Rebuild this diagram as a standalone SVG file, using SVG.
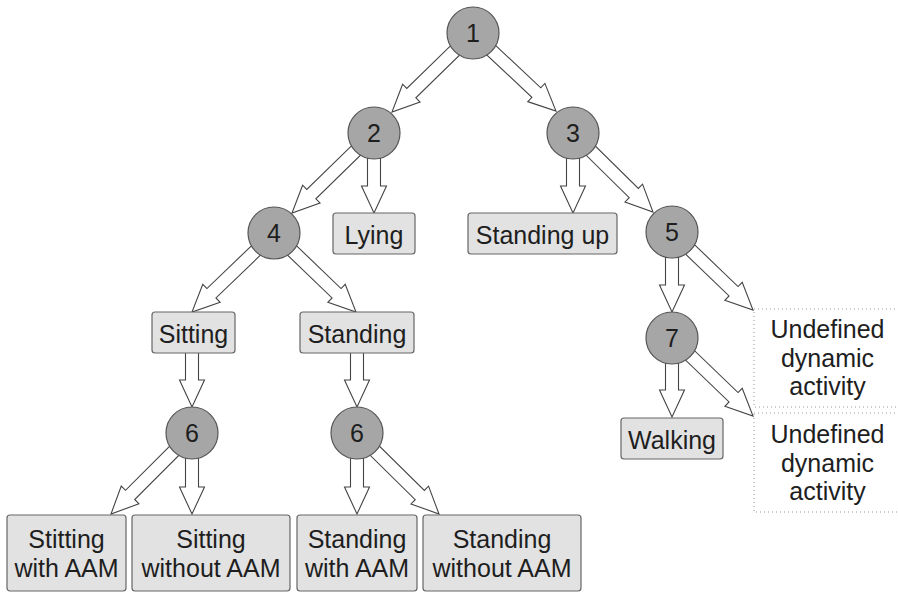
<svg xmlns="http://www.w3.org/2000/svg" width="898" height="592" viewBox="0 0 898 592">
  <style>
    .arrow { fill: #ffffff; stroke: #444444; stroke-width: 1.1; stroke-linejoin: miter; }
    .dec circle { fill: #a6a6a6; stroke: #555555; stroke-width: 1.2; }
    .leaf rect { fill: #e2e2e2; stroke: #666666; stroke-width: 1.2; }
    .open rect { fill: #ffffff; stroke: #999999; stroke-width: 1; stroke-dasharray: 1 3; }
    text { font-family: "Liberation Sans", Arial, sans-serif; font-size: 25px; fill: #1e1e1e; text-anchor: middle; }
  </style>
  <defs>
    <!-- block arrow pointing down, tip at origin; shaft reaches back into the source node -->
    <polygon id="arr80" points="-6.5,-80 6.5,-80 6.5,-27 12.5,-27 0,0 -12.5,-27 -6.5,-27"/>
    <polygon id="arr74" points="-6.5,-74 6.5,-74 6.5,-27 12.5,-27 0,0 -12.5,-27 -6.5,-27"/>
    <polygon id="arr113" points="-6.5,-113 6.5,-113 6.5,-27 12.5,-27 0,0 -12.5,-27 -6.5,-27"/>
  </defs>

  <g id="connectors" class="arrow">
    <use href="#arr113" transform="translate(392,112) rotate(45.7)"/>
    <use href="#arr113" transform="translate(556,111) rotate(-46.8)"/>
    <use href="#arr113" transform="translate(292,213) rotate(45.7)"/>
    <use href="#arr80" transform="translate(374,213)"/>
    <use href="#arr80" transform="translate(573,213)"/>
    <use href="#arr113" transform="translate(653,212) rotate(-45.4)"/>
    <use href="#arr113" transform="translate(192,312) rotate(46.1)"/>
    <use href="#arr113" transform="translate(356,312) rotate(-46.1)"/>
    <use href="#arr80" transform="translate(672,312)"/>
    <use href="#arr113" transform="translate(753,310) rotate(-46.1)"/>
    <use href="#arr80" transform="translate(672,417)"/>
    <use href="#arr113" transform="translate(753,416) rotate(-46.1)"/>
    <use href="#arr74" transform="translate(192,407)"/>
    <use href="#arr74" transform="translate(357,407)"/>
    <use href="#arr113" transform="translate(111,514) rotate(45)"/>
    <use href="#arr80" transform="translate(192,514)"/>
    <use href="#arr80" transform="translate(357,514)"/>
    <use href="#arr113" transform="translate(439,514) rotate(-45.4)"/>
  </g>

  <!-- decision nodes -->
  <g id="n1" class="dec"><circle cx="473" cy="33" r="26"/><text x="473" y="42">1</text></g>
  <g id="n2" class="dec"><circle cx="374" cy="133" r="26"/><text x="374" y="142">2</text></g>
  <g id="n3" class="dec"><circle cx="573" cy="133" r="26"/><text x="573" y="142">3</text></g>
  <g id="n4" class="dec"><circle cx="274" cy="233" r="26"/><text x="274" y="242">4</text></g>
  <g id="n5" class="dec"><circle cx="672" cy="232" r="26"/><text x="672" y="241">5</text></g>
  <g id="n7" class="dec"><circle cx="672" cy="338" r="26"/><text x="672" y="347">7</text></g>
  <g id="n6a" class="dec"><circle cx="192" cy="433" r="26"/><text x="192" y="442">6</text></g>
  <g id="n6b" class="dec"><circle cx="357" cy="433" r="26"/><text x="357" y="442">6</text></g>

  <!-- activity leaves -->
  <g id="lying" class="leaf"><rect x="333" y="213" width="82" height="41" rx="3"/><text x="374" y="244">Lying</text></g>
  <g id="standing-up" class="leaf"><rect x="468" y="213" width="149" height="41" rx="3"/><text x="542.5" y="244">Standing up</text></g>
  <g id="sitting" class="leaf"><rect x="152" y="312" width="83" height="41" rx="3"/><text x="193.5" y="343">Sitting</text></g>
  <g id="standing" class="leaf"><rect x="300" y="312" width="114" height="41" rx="3"/><text x="357" y="343">Standing</text></g>
  <g id="walking" class="leaf"><rect x="621" y="418" width="102" height="41" rx="3"/><text x="672" y="449">Walking</text></g>

  <g id="sit-aam" class="leaf"><rect x="7" y="515" width="119" height="76" rx="3"/>
    <text x="66.5" y="547.5">Stitting</text><text x="66.5" y="576.5">with AAM</text></g>
  <g id="sit-noaam" class="leaf"><rect x="132" y="515" width="158" height="76" rx="3"/>
    <text x="211" y="547.5">Sitting</text><text x="211" y="576.5">without AAM</text></g>
  <g id="stand-aam" class="leaf"><rect x="297" y="515" width="120" height="76" rx="3"/>
    <text x="357" y="547.5">Standing</text><text x="357" y="576.5">with AAM</text></g>
  <g id="stand-noaam" class="leaf"><rect x="423" y="515" width="158" height="76" rx="3"/>
    <text x="502" y="547.5">Standing</text><text x="502" y="576.5">without AAM</text></g>

  <!-- open-ended outcomes -->
  <g id="undef1" class="open"><rect x="754" y="309" width="150" height="98"/>
    <text x="827.5" y="338">Undefined</text><text x="827.5" y="367">dynamic</text><text x="827.5" y="395">activity</text></g>
  <g id="undef2" class="open"><rect x="754" y="413" width="150" height="99"/>
    <text x="827.5" y="443">Undefined</text><text x="827.5" y="472">dynamic</text><text x="827.5" y="500">activity</text></g>
</svg>
